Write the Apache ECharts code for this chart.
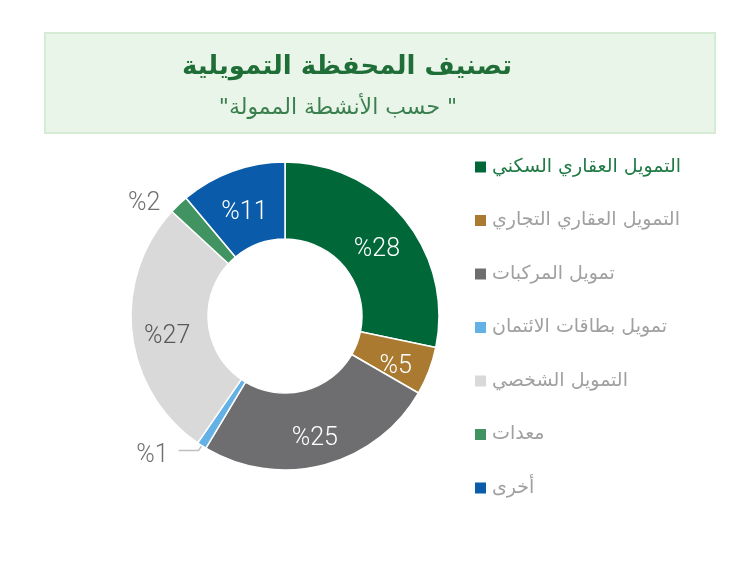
<!DOCTYPE html>
<html>
<head>
<meta charset="utf-8">
<script src="https://cdn.jsdelivr.net/npm/echarts@6/dist/echarts.min.js"></script>
<style>html,body{margin:0;padding:0;background:#fff;}#c{width:750px;height:563px;}</style>
</head>
<body>
<div id="c"></div>
<script>
const titleText = 'تصنيف المحفظة التمويلية';
const subtitleText = '\u200F" حسب الأنشطة الممولة"\u200F';
const categories = ['التمويل العقاري السكني','التمويل العقاري التجاري','تمويل المركبات','تمويل بطاقات الائتمان','التمويل الشخصي','معدات','أخرى'];
const values = [28, 5, 25, 1, 27, 2, 11];
const colors = ['#006838','#A97A30','#6E6E70','#63B1E5','#D9D9D9','#419461','#0A5CAA'];

const chart = echarts.init(document.getElementById('c'));
const arabicFont = '"DejaVu Sans", "Noto Sans", sans-serif';
const numFont = 'Roboto, "Liberation Sans", sans-serif';

const data = categories.map((name, i) => {
  const item = { name: name, value: values[i], itemStyle: { color: colors[i] } };
  if (i === 4) item.label = { color: '#595959' };
  if (i === 5) {
    item.label = { position: 'outside', color: '#707070', distanceToLabelLine: 0 };
    item.labelLine = { show: false, length: 12, length2: 10 };
  }
  if (i === 3) {
    item.label = { position: 'outside', color: '#707070', distanceToLabelLine: 10, lineHeight: 10 };
    item.labelLine = { show: true, length: 6, length2: 20, lineStyle: { color: '#bfbfbf', width: 1.5 } };
  }
  return item;
});

chart.setOption({
  animation: false,
  color: colors,
  graphic: [
    { type: 'rect', shape: { x: 45, y: 33, width: 670, height: 100 },
      style: { fill: '#EAF5E9', stroke: '#D6EBD3', lineWidth: 2 } },
    { type: 'text', x: 347, y: 67,
      style: { text: titleText, fill: '#1F6E37', font: 'bold 26px ' + arabicFont, textAlign: 'center', textVerticalAlign: 'middle' } },
    { type: 'text', x: 338, y: 108,
      style: { text: subtitleText, fill: '#3A7F4E', font: '22px ' + arabicFont, textAlign: 'center', textVerticalAlign: 'middle' } }
  ],
  legend: {
    orient: 'vertical',
    left: 473,
    top: 157,
    padding: 0,
    icon: 'rect',
    itemWidth: 13,
    itemHeight: 13,
    itemGap: 33.5,
    textStyle: { fontSize: 19, lineHeight: 20, color: '#A0A0A0', fontFamily: arabicFont },
    data: categories.map((n, i) => i === 0 ? { name: n, textStyle: { color: '#1F7A45' } } : { name: n })
  },
  series: [{
    type: 'pie',
    center: [285, 316],
    radius: [77, 154],
    startAngle: 90,
    clockwise: true,
    avoidLabelOverlap: false,
    itemStyle: { borderColor: '#ffffff', borderWidth: 1.5 },
    label: {
      show: true,
      position: 'inside',
      formatter: '\n%{c}',
      lineHeight: 16,
      color: '#ffffff',
      fontSize: 25,
      fontWeight: 300,
      fontFamily: numFont
    },
    labelLine: { show: false },
    data: data
  }]
});
</script>
</body>
</html>
